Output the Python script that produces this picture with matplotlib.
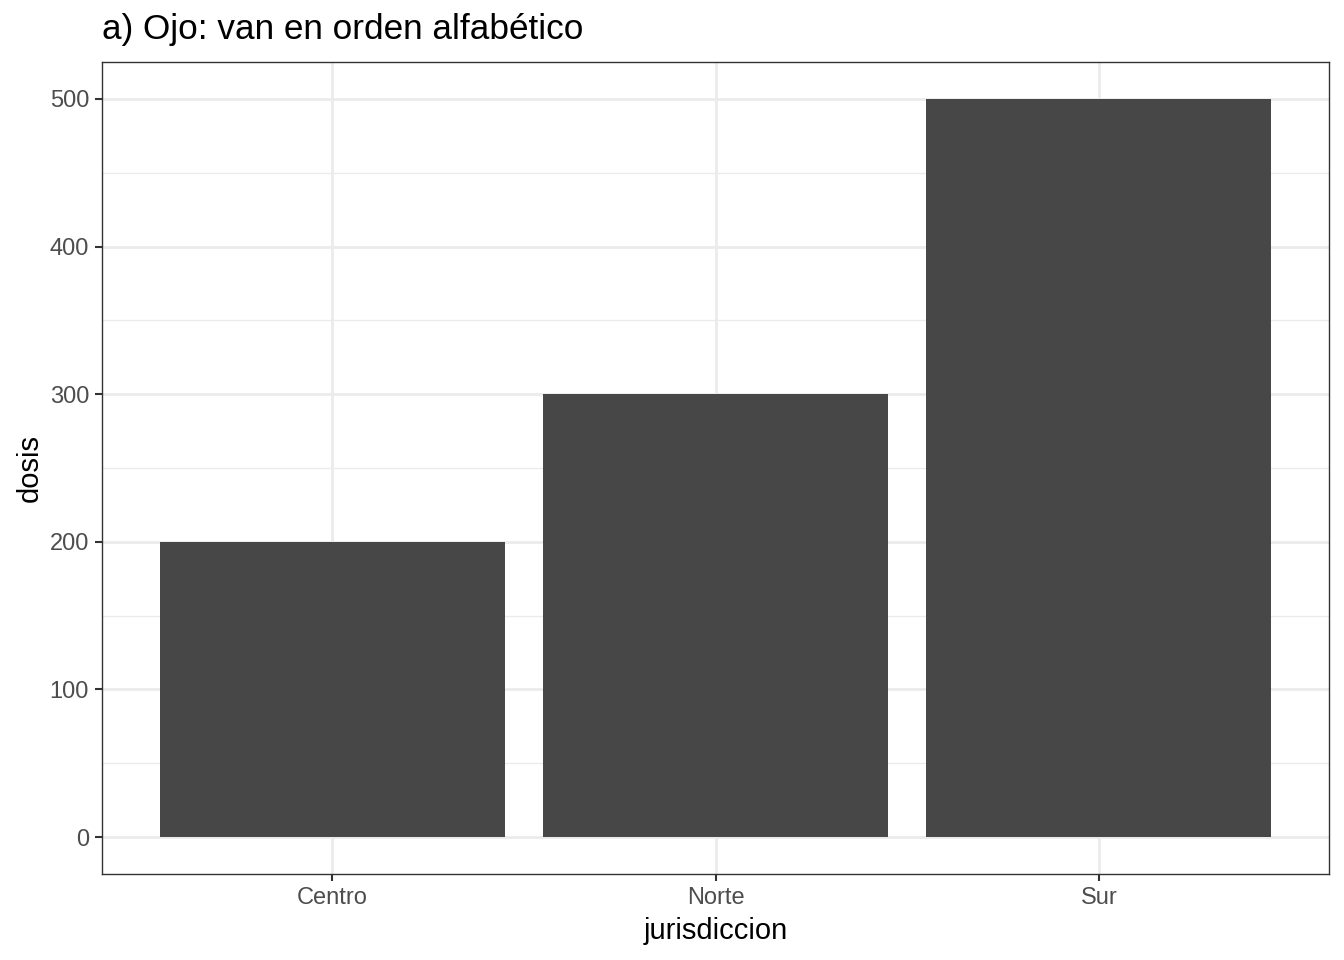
import numpy as np
import matplotlib
matplotlib.use('Agg')
import matplotlib.pyplot as plt

plt.rcParams['font.family'] = ['Liberation Sans', 'DejaVu Sans']

# data
jurisdiccion = ['Centro', 'Norte', 'Sur']
dosis = [200, 300, 500]
yticks = [0, 100, 200, 300, 400, 500]

fig = plt.figure(figsize=(13.44, 9.6), dpi=100)
ax = fig.add_axes([102/1344, 1-874/960, (1329-102)/1344, (874-62)/960])

x = np.arange(1, len(jurisdiccion)+1)
ax.set_xlim(0.4, 3.6)
ax.set_ylim(-25, 525)

# grid
for v in np.arange(50, 500, 100):
    ax.axhline(v, color='#ebebeb', lw=1.0, zorder=0)
for v in yticks:
    ax.axhline(v, color='#ebebeb', lw=2.0, zorder=0)
for v in x:
    ax.axvline(v, color='#ebebeb', lw=2.0, zorder=0)

ax.bar(x, dosis, width=0.9, color='#474747', zorder=2)

ax.set_xticks(x)
ax.set_xticklabels(jurisdiccion)
ax.set_yticks(yticks)
ax.tick_params(axis='both', length=5.3, width=1.5, color='#333333',
               labelsize=17, labelcolor='#4d4d4d', pad=4)
for s in ax.spines.values():
    s.set_color('#333333')
    s.set_linewidth(1.0)

ax.set_xlabel('jurisdiccion', fontsize=21, color='black', labelpad=6)
ax.set_ylabel('dosis', fontsize=21, color='black', labelpad=4)
fig.text(102/1344, 1-30/960, 'a) Ojo: van en orden alfabético', fontsize=25.3,
         va='center', ha='left')

fig.savefig('out.png', dpi=100)
